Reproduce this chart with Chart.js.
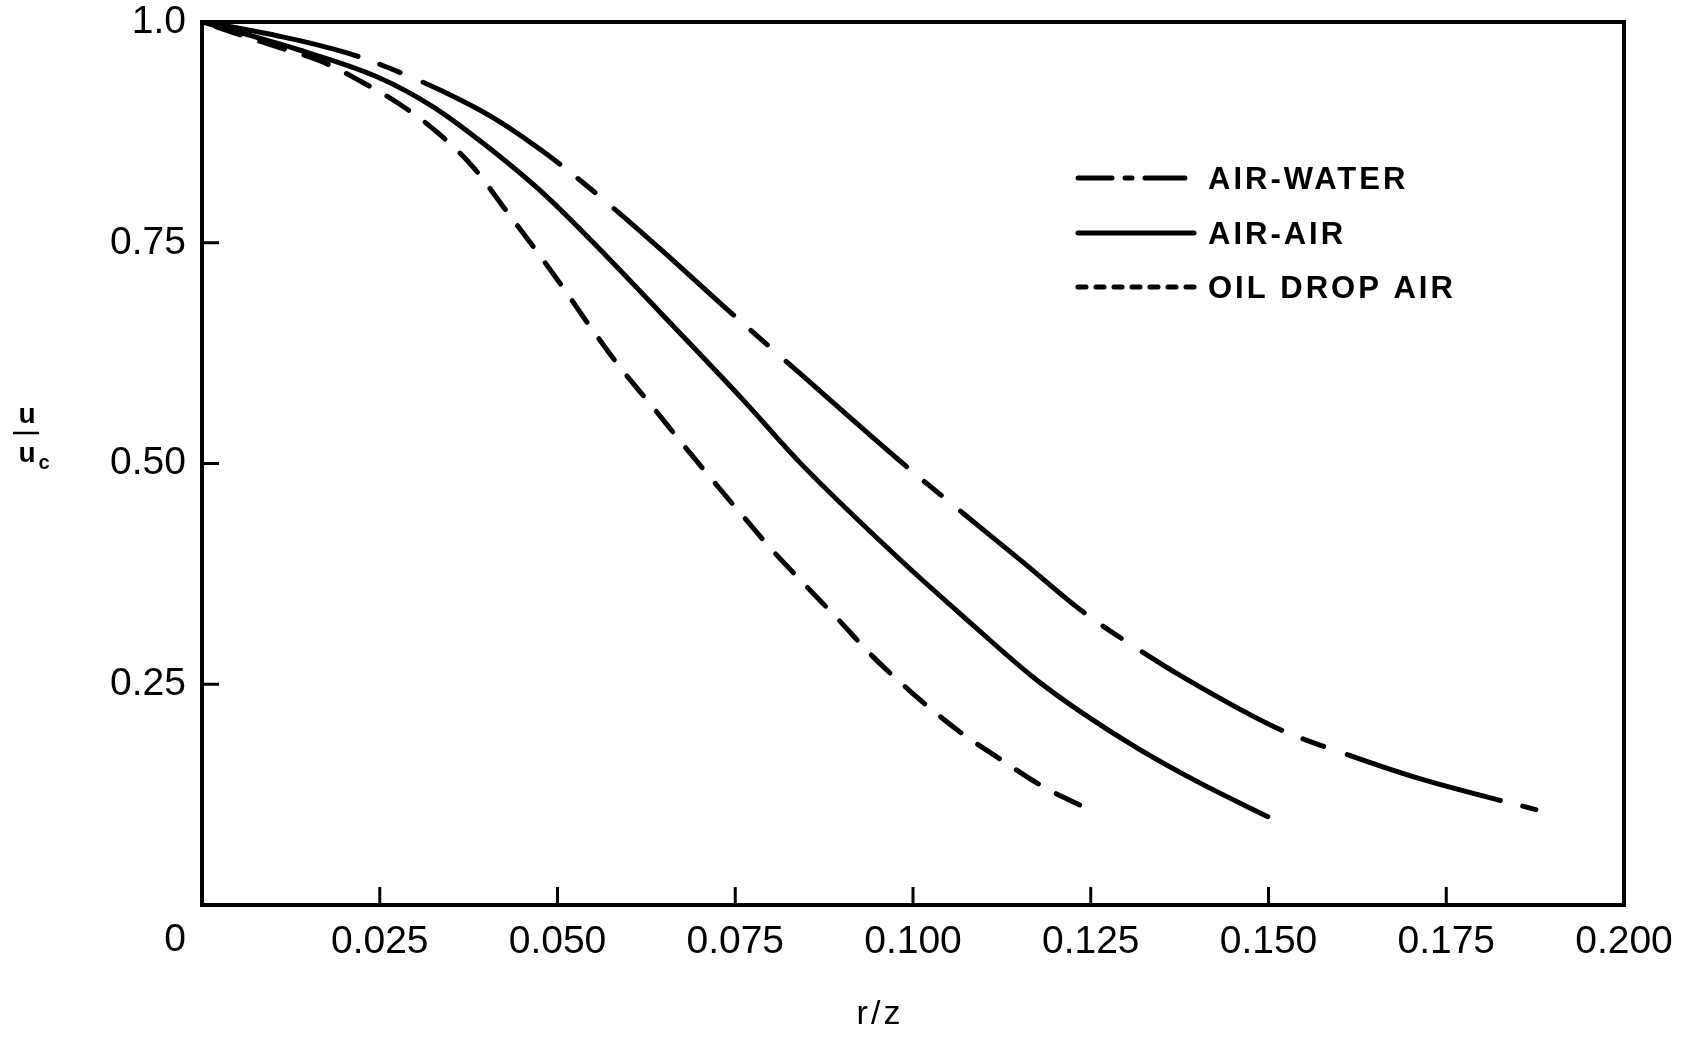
<!DOCTYPE html>
<html>
<head>
<meta charset="utf-8">
<title>u/uc vs r/z</title>
<script src="https://cdn.jsdelivr.net/npm/chart.js@4.4.1/dist/chart.umd.min.js"></script>
<style>
    html, body { margin: 0; padding: 0; background: #fff; }
    #wrap { width: 1690px; height: 1038px; }
</style>
</head>
<body>
<div id="wrap"><canvas id="chart" width="1690" height="1038"></canvas></div>
<script>
// ===== velocity profiles =====

const seriesLabels = ['AIR-WATER', 'AIR-AIR', 'OIL DROP AIR'];

const airWaterX = [0, 0.0025, 0.0204, 0.0278, 0.0363, 0.0419, 0.0487, 0.056, 0.0646, 0.0731, 0.0841,
    0.0996, 0.107, 0.1155, 0.1239, 0.1322, 0.138, 0.1513, 0.1612, 0.1709, 0.1876];
const airWaterY = [1.0, 0.997, 0.965, 0.943, 0.912, 0.887, 0.849, 0.802, 0.742, 0.680, 0.602,
    0.493, 0.444, 0.388, 0.332, 0.287, 0.258, 0.200, 0.170, 0.144, 0.108];

const airAirX = [0, 0.0138, 0.0246, 0.0325, 0.0395, 0.048, 0.057, 0.0654, 0.0761, 0.0841, 0.0982,
    0.1076, 0.1169, 0.1239, 0.1319, 0.1404, 0.1499];
const airAirY = [1.0, 0.968, 0.938, 0.904, 0.863, 0.806, 0.734, 0.663, 0.572, 0.501, 0.391,
    0.323, 0.258, 0.217, 0.176, 0.138, 0.100];

const oilDropX = [0, 0.0044, 0.0105, 0.0169, 0.0225, 0.0276, 0.0331, 0.0381, 0.043, 0.0473, 0.0508,
    0.0546, 0.0588, 0.0634, 0.0675, 0.0714, 0.0757, 0.0802, 0.0844, 0.0893, 0.0944, 0.0999, 0.1066,
    0.1125, 0.1183, 0.1248];
const oilDropY = [1.0, 0.988, 0.972, 0.955, 0.932, 0.908, 0.875, 0.836, 0.784, 0.738, 0.699,
    0.655, 0.609, 0.564, 0.523, 0.485, 0.444, 0.402, 0.366, 0.325, 0.281, 0.240, 0.196,
    0.164, 0.134, 0.108];

const xTickValues = [0, 0.025, 0.05, 0.075, 0.1, 0.125, 0.15, 0.175, 0.2];
const xTickLabels = ['0', '0.025', '0.050', '0.075', '0.100', '0.125', '0.150', '0.175', '0.200'];
const yTickValues = [0.25, 0.5, 0.75, 1.0];
const yTickLabels = ['0.25', '0.50', '0.75', '1.0'];

const FONT = "'Liberation Sans', Arial, sans-serif";
const INK = '#000';

function toPoints(xs, ys) {
    return xs.map((x, i) => ({ x, y: ys[i] }));
}

// legend line samples use their own (shorter) dash rhythm
const legendDashes = [[34, 13, 7, 13, 40], [], [8, 10]];

/** Frame, inner ticks, axis titles and the in-plot legend */
const paperPlugin = {
    id: 'paper',
    afterDraw(chart) {
        const { ctx, chartArea: a, scales } = chart;
        ctx.save();
        ctx.strokeStyle = INK;
        ctx.fillStyle = INK;

        // frame
        ctx.lineWidth = 4;
        ctx.setLineDash([]);
        ctx.strokeRect(a.left, a.top, a.right - a.left, a.bottom - a.top);

        // inner tick marks
        ctx.lineWidth = 3;
        ctx.lineCap = 'butt';
        xTickValues.slice(1, -1).forEach(v => {
            const px = scales.x.getPixelForValue(v);
            ctx.beginPath();
            ctx.moveTo(px, a.bottom);
            ctx.lineTo(px, a.bottom - 18);
            ctx.stroke();
        });
        yTickValues.slice(0, -1).forEach(v => {
            const py = scales.y.getPixelForValue(v);
            ctx.beginPath();
            ctx.moveTo(a.left, py);
            ctx.lineTo(a.left + 17, py);
            ctx.stroke();
        });

        // the "0" of the x axis sits left of the origin
        ctx.font = `39px ${FONT}`;
        ctx.textAlign = 'center';
        ctx.textBaseline = 'middle';
        ctx.fillText(xTickLabels[0], scales.x.getPixelForValue(0) - 27, a.bottom + 35);

        // x title
        ctx.font = `34px ${FONT}`;
        ctx.letterSpacing = '3px';
        ctx.fillText('r/z', (a.left + a.right) / 2 - 33, a.bottom + 110);
        ctx.letterSpacing = '0px';

        // y title as a fraction u / u_c
        ctx.font = `bold 28px ${FONT}`;
        ctx.fillText('u', 27, 415);
        ctx.lineWidth = 2.5;
        ctx.beginPath();
        ctx.moveTo(13, 433);
        ctx.lineTo(39, 433);
        ctx.stroke();
        ctx.fillText('u', 27, 454);
        ctx.font = `bold 20px ${FONT}`;
        ctx.fillText('c', 44, 463);

        // legend
        const lx0 = 1078, lx1 = 1194, tx = 1208;
        const rows = [178, 233, 287];
        ctx.textAlign = 'left';
        ctx.font = `bold 31px ${FONT}`;
        ctx.letterSpacing = '3px';
        chart.data.datasets.forEach((ds, i) => {
            ctx.lineWidth = 5;
            ctx.lineCap = 'round';
            ctx.setLineDash(legendDashes[i]);
            ctx.beginPath();
            ctx.moveTo(lx0, rows[i]);
            ctx.lineTo(lx1, rows[i]);
            ctx.stroke();
            ctx.setLineDash([]);
            ctx.fillText(ds.label, tx, rows[i] + 2);
        });
        ctx.restore();
    },
};

const lineBase = {
    borderColor: INK,
    borderWidth: 5,
    borderCapStyle: 'round',
    pointRadius: 0,
    fill: false,
    cubicInterpolationMode: 'monotone',
};

const tickFont = { size: 39, family: FONT };

new Chart(document.getElementById('chart'), {
    type: 'line',
    data: {
        datasets: [
            { ...lineBase, label: seriesLabels[0], data: toPoints(airWaterX, airWaterY),
                borderDash: [160, 23, 22, 25], borderDashOffset: 0 },
            { ...lineBase, label: seriesLabels[1], data: toPoints(airAirX, airAirY) },
            { ...lineBase, label: seriesLabels[2], data: toPoints(oilDropX, oilDropY),
                borderDash: [26, 20.4], borderDashOffset: 32 },
        ],
    },
    options: {
        responsive: false,
        animation: false,
        devicePixelRatio: 1,
        layout: { padding: { top: 22, right: 66, left: 0, bottom: 0 } },
        plugins: {
            legend: { display: false },
            tooltip: { enabled: false },
        },
        scales: {
            x: {
                type: 'linear',
                min: 0,
                max: 0.2,
                afterBuildTicks: s => { s.ticks = xTickValues.map(v => ({ value: v })); },
                afterFit: s => {
                    s.height = 133;
                    s.paddingLeft = 0;
                    s.paddingRight = 0;
                },
                grid: { display: false, drawTicks: false },
                border: { display: false },
                ticks: {
                    autoSkip: false,
                    maxRotation: 0,
                    padding: 14,
                    color: INK,
                    font: tickFont,
                    callback: (v, i) => (i === 0 ? '' : xTickLabels[i]),
                },
            },
            y: {
                type: 'linear',
                min: 0,
                max: 1,
                afterBuildTicks: s => { s.ticks = yTickValues.map(v => ({ value: v })); },
                afterFit: s => {
                    s.width = 202;
                    s.paddingTop = 0;
                    s.paddingBottom = 0;
                },
                grid: { display: false, drawTicks: false },
                border: { display: false },
                ticks: {
                    autoSkip: false,
                    padding: 16,
                    color: INK,
                    font: tickFont,
                    callback: (v, i) => yTickLabels[i],
                },
            },
        },
    },
    plugins: [paperPlugin],
});
</script>
</body>
</html>
